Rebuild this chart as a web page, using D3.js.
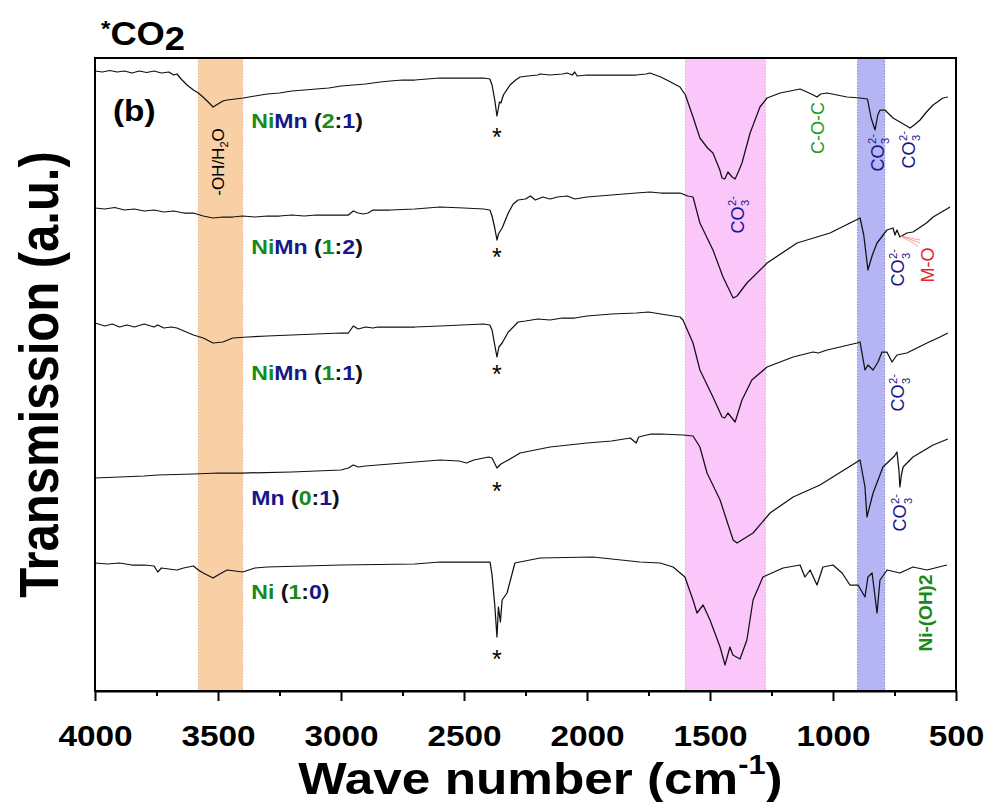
<!DOCTYPE html>
<html>
<head>
<meta charset="utf-8">
<script src="https://cdn.jsdelivr.net/npm/d3@7"></script>
<style>
  body { margin: 0; background: #fff; }
  svg { display: block; font-family: "Liberation Sans", Arial, sans-serif; }
</style>
</head>
<body>
<svg id="chart" width="986" height="802"></svg>
<script>
// FTIR transmission spectra (stacked, arbitrary units), wavenumber in cm^-1
const niMn21 = [
  [4000,124.0],[3970,123.8],[3940,124.1],[3910,123.8],[3880,124.0],[3850,123.6],[3820,124.0],[3790,123.7],
  [3760,124.0],[3730,123.6],[3700,123.8],[3680,123.2],[3667,123.4],[3650,122.4],[3626,121.2],[3600,120.2],
  [3580,119.6],[3561,118.8],[3540,117.8],[3520,116.8],[3500,117.4],[3480,118.0],[3463,118.2],[3430,118.4],
  [3398,118.6],[3350,119.0],[3300,119.4],[3250,119.6],[3200,120.0],[3150,120.2],[3100,120.4],[3050,120.6],
  [3000,121.0],[2950,121.2],[2900,121.4],[2841,121.8],[2800,122.0],[2750,122.2],[2700,122.2],[2650,122.4],
  [2598,122.6],[2500,122.6],[2420,122.6],[2395,122.4],[2386,121.2],[2375,118.2],[2366,115.0],[2360,116.6],
  [2356,117.8],[2350,117.6],[2340,119.2],[2313,121.2],[2290,122.2],[2272,122.8],[2240,123.0],[2200,123.2],
  [2191,123.4],[2150,123.2],[2100,123.4],[2080,123.6],[2060,123.2],[2050,123.8],[2040,123.0],[2000,123.2],
  [1960,123.2],[1900,123.2],[1850,123.2],[1800,123.2],[1760,123.4],[1744,123.6],[1700,122.8],[1660,121.8],
  [1622,120.8],[1600,119.2],[1569,114.8],[1541,110.6],[1510,108.6],[1488,107.6],[1460,104.2],[1451,102.6],
  [1440,102.4],[1427,103.8],[1410,102.8],[1398,102.4],[1385,103.8],[1370,105.6],[1337,111.6],[1297,116.8],
  [1268,118.6],[1215,119.6],[1134,120.4],[1106,119.8],[1080,119.2],[1065,118.8],[1050,119.4],[1024,119.6],
  [943,118.8],[890,118.6],[860,118.4],[845,114.6],[829,112.2],[818,115.2],[809,116.2],[789,116.2],
  [756,114.6],[728,113.8],[700,113.0],[687,112.6],[670,113.2],[646,114.2],[620,115.8],[593,117.2],
  [553,118.6],[533,118.8]
];

const niMn12 = [
  [4000,96.6],[3960,96.4],[3920,96.7],[3880,96.2],[3840,96.4],[3800,96.0],[3760,96.2],[3720,95.8],
  [3680,96.0],[3640,95.6],[3600,95.6],[3560,95.0],[3520,94.6],[3480,94.8],[3440,94.8],[3400,95.0],
  [3350,94.8],[3300,95.0],[3250,95.0],[3200,95.2],[3150,95.0],[3100,95.2],[3050,95.2],[3000,95.2],
  [2970,95.2],[2950,96.0],[2930,95.6],[2910,95.4],[2890,95.6],[2870,96.2],[2800,96.2],[2700,96.4],
  [2598,96.8],[2500,96.6],[2420,96.4],[2395,96.2],[2386,95.0],[2375,92.6],[2366,90.2],[2360,91.4],
  [2355,91.8],[2345,92.6],[2320,95.6],[2300,97.4],[2280,98.2],[2250,98.4],[2230,99.0],[2210,98.2],
  [2180,98.8],[2150,98.4],[2120,98.8],[2080,99.0],[2050,98.4],[2000,98.8],[1950,99.0],[1900,99.2],
  [1850,99.4],[1800,99.6],[1744,99.8],[1700,99.6],[1622,99.6],[1590,99.0],[1569,98.8],[1541,93.6],
  [1488,88.2],[1447,82.8],[1406,78.6],[1390,79.0],[1350,81.6],[1268,85.6],[1146,89.6],[1012,91.6],
  [890,94.6],[875,91.2],[858,84.2],[840,87.2],[821,89.6],[781,92.2],[756,92.6],[748,91.2],
  [740,92.2],[728,90.8],[700,91.6],[675,91.8],[620,93.6],[593,94.8],[524,96.8]
];

const niMn11 = [
  [4000,73.6],[3960,73.0],[3930,73.4],[3900,72.8],[3870,73.2],[3840,72.8],[3800,73.4],[3760,72.8],
  [3745,73.2],[3720,72.6],[3690,72.8],[3667,72.6],[3600,71.2],[3560,70.6],[3520,69.6],[3480,69.8],
  [3440,70.6],[3380,70.8],[3300,71.0],[3200,71.2],[3100,71.4],[3000,71.6],[2970,71.6],[2950,73.0],
  [2930,72.4],[2900,72.8],[2870,72.6],[2850,72.8],[2700,72.8],[2598,73.0],[2420,73.4],[2395,73.2],
  [2386,72.2],[2375,69.2],[2366,66.8],[2358,68.8],[2345,69.6],[2320,71.8],[2280,73.8],[2250,74.0],
  [2200,74.4],[2150,74.2],[2100,74.6],[2050,74.6],[2000,75.0],[1900,75.4],[1800,75.6],[1750,75.8],
  [1700,75.4],[1622,74.8],[1610,74.2],[1569,69.6],[1541,64.2],[1488,58.8],[1451,54.8],[1440,54.6],
  [1427,55.6],[1398,53.8],[1370,58.2],[1330,62.2],[1268,64.8],[1162,66.8],[1081,67.8],[1060,67.6],
  [1024,68.2],[902,69.6],[890,69.8],[870,64.2],[858,65.2],[837,64.2],[817,65.8],[801,67.8],
  [781,67.8],[760,65.8],[740,67.2],[700,67.6],[618,69.6],[565,70.8],[533,71.6]
];

const mn01 = [
  [4000,42.6],[3800,43.0],[3745,43.2],[3600,43.4],[3500,43.6],[3400,43.6],[3200,43.8],[3000,44.2],
  [2970,44.6],[2950,45.2],[2930,44.8],[2900,45.0],[2800,45.4],[2598,46.2],[2520,46.0],[2490,45.6],
  [2460,46.2],[2400,46.8],[2386,46.6],[2366,44.6],[2350,45.4],[2320,46.2],[2272,47.6],[2150,48.8],
  [2000,49.6],[1900,50.0],[1824,50.6],[1800,49.6],[1790,50.8],[1740,51.4],[1700,51.4],[1610,51.2],
  [1569,51.0],[1541,48.8],[1512,43.6],[1459,38.2],[1406,30.2],[1390,29.6],[1325,31.6],[1256,35.6],
  [1162,38.8],[1053,41.2],[890,46.2],[870,40.8],[862,34.8],[837,39.6],[797,44.8],[750,47.0],
  [740,47.8],[732,44.2],[728,40.8],[722,43.2],[715,44.8],[675,46.8],[593,49.2],[533,50.4]
];

const ni10 = [
  [4000,25.6],[3950,25.4],[3900,25.6],[3850,25.2],[3800,25.2],[3760,25.0],[3745,23.8],[3730,24.6],
  [3700,24.4],[3667,24.2],[3640,24.6],[3600,25.0],[3580,24.2],[3560,23.6],[3520,22.6],[3500,23.2],
  [3463,24.2],[3400,23.8],[3350,24.6],[3300,24.8],[3000,25.2],[2700,25.4],[2598,25.8],[2420,25.8],
  [2394,25.8],[2386,23.2],[2375,17.2],[2366,10.8],[2360,16.8],[2352,13.8],[2345,18.2],[2325,19.6],
  [2293,25.6],[2191,26.6],[1976,26.8],[1785,25.8],[1703,25.6],[1650,24.8],[1602,22.8],[1569,18.2],
  [1553,15.6],[1528,17.2],[1500,14.2],[1459,8.8],[1439,5.2],[1419,8.8],[1407,7.2],[1378,6.4],
  [1350,10.2],[1325,18.2],[1285,22.8],[1203,24.6],[1134,25.2],[1114,22.8],[1093,24.2],[1065,21.2],
  [1041,24.8],[1000,25.2],[963,23.6],[931,21.2],[898,21.2],[870,18.8],[858,22.8],[841,23.6],
  [821,15.6],[809,22.2],[780,24.2],[728,23.6],[675,24.8],[618,24.2],[537,25.2]
];

const seriesNames = ["NiMn (2:1)", "NiMn (1:2)", "NiMn (1:1)", "Mn (0:1)", "Ni (1:0)"];
const seriesValues = [niMn21, niMn12, niMn11, mn01, ni10];

// Assignment bands (cm^-1)
const bandRanges = [[3580, 3400], [1600, 1275], [900, 790]];

const xTicks = [4000, 3500, 3000, 2500, 2000, 1500, 1000, 500];
const xMinorTicks = [3750, 3250, 2750, 2250, 1750, 1250, 750];

// ---- layout & styles ----
const W = 986, H = 802;
const margin = { left: 95, right: 30, top: 58, bottom: 111 };
const GREEN = "#178a17", NAVY = "#17178a", INK = "#111", RED = "#e3262b";
const bandFill = ["#f9cfa6", "#fbc6fa", "#b5b5f4"];
const bandEdge = ["#e8b487", "#e9a1ea", "#8585d8"];

const svg = d3.select("#chart");
const x = d3.scaleLinear().domain([4000, 500]).range([margin.left, W - margin.right]);
const y = d3.scaleLinear().domain([0, 126.6]).range([H - margin.bottom, margin.top]);
const plotTop = margin.top, plotBottom = H - margin.bottom;

// bands
const bandG = svg.append("g");
bandRanges.forEach((r, i) => {
  const x0 = x(r[0]), x1 = x(r[1]);
  bandG.append("rect").attr("x", x0).attr("y", plotTop).attr("width", x1 - x0)
    .attr("height", plotBottom - plotTop).attr("fill", bandFill[i]);
  [x0, x1].forEach(xx => bandG.append("line").attr("x1", xx).attr("x2", xx)
    .attr("y1", plotTop).attr("y2", plotBottom)
    .attr("stroke", bandEdge[i]).attr("stroke-width", 1).attr("stroke-dasharray", "1.5,1.5"));
});

// spectra
const line = d3.line().x(d => x(d[0])).y(d => y(d[1]));
svg.append("g").selectAll("path").data(seriesValues).join("path")
  .attr("d", line).attr("fill", "none").attr("stroke", "#111")
  .attr("stroke-width", 1.25).attr("stroke-linejoin", "round");

// frame
svg.append("rect").attr("x", margin.left).attr("y", plotTop)
  .attr("width", W - margin.right - margin.left).attr("height", plotBottom - plotTop)
  .attr("fill", "none").attr("stroke", "#000").attr("stroke-width", 2);

// x axis
const axG = svg.append("g").attr("transform", `translate(0,${plotBottom})`)
  .call(d3.axisBottom(x).tickValues(xTicks).tickSize(10).tickSizeOuter(0).tickFormat(d3.format("d")));
axG.select(".domain").attr("stroke-width", 2);
axG.selectAll(".tick line").attr("stroke-width", 2);
axG.selectAll(".tick text").attr("dy", null).attr("y", 55)
  .attr("font-size", 29).attr("font-weight", "bold").attr("fill", "#000")
  .attr("font-family", "Liberation Sans, Arial, sans-serif")
  .attr("transform", "scale(1.15,1)");
const minG = svg.append("g").attr("transform", `translate(0,${plotBottom})`)
  .call(d3.axisBottom(x).tickValues(xMinorTicks).tickSize(5).tickFormat(""));
minG.select(".domain").remove();
minG.selectAll(".tick line").attr("stroke-width", 2);

// helpers
function hText(px, py, parts, size, opts = {}) {
  const g = svg.append("g").attr("transform", `translate(${px},${py}) scale(${opts.sx || 1.1},1)`);
  const t = g.append("text").attr("font-size", size)
    .attr("font-weight", opts.weight || "bold").attr("text-anchor", opts.anchor || "start");
  parts.forEach(p => {
    const s = t.append("tspan").attr("fill", p.c || "#000").text(p.t);
    if (p.dy) s.attr("dy", p.dy);
    if (p.fs) s.attr("font-size", p.fs);
  });
  return g;
}
function vText(cx, cy, parts, size, color, weight) {
  // vertical text reading bottom-to-top, centred on (cx, cy)
  const g = svg.append("g").attr("transform", `translate(${cx},${cy}) rotate(-90)`);
  const t = g.append("text").attr("font-size", size).attr("font-weight", weight || "normal")
    .attr("fill", color).attr("text-anchor", "middle").attr("y", size * 0.36);
  parts.forEach(p => {
    const s = t.append("tspan").text(p.t);
    if (p.dy) s.attr("dy", p.dy);
    if (p.fs) s.attr("font-size", p.fs);
  });
  return g;
}
function carbonate(w, v, size = 18) {
  const g = svg.append("g").attr("transform", `translate(${x(w)},${y(v)}) rotate(-90)`);
  const inner = g.append("g");
  const main = inner.append("text").attr("font-size", size).attr("fill", NAVY).text("CO");
  const wMain = main.node().getComputedTextLength();
  const small = size * 0.62;
  const sub = inner.append("text").attr("x", wMain + 0.5).attr("y", size * 0.3)
    .attr("font-size", small).attr("fill", NAVY).text("3");
  const sup = inner.append("text").attr("x", wMain + 0.5).attr("y", -size * 0.42)
    .attr("font-size", small).attr("fill", NAVY).text("2-");
  const wSmall = Math.max(sub.node().getComputedTextLength(), sup.node().getComputedTextLength());
  inner.attr("transform", `translate(${-(wMain + wSmall) / 2},${size * 0.36})`);
}

// series labels
const labelParts = [
  [{t:"Ni",c:GREEN},{t:"Mn",c:NAVY},{t:" (",c:INK},{t:"2",c:GREEN},{t:":",c:INK},{t:"1",c:NAVY},{t:")",c:INK}],
  [{t:"Ni",c:GREEN},{t:"Mn",c:NAVY},{t:" (",c:INK},{t:"1",c:GREEN},{t:":",c:INK},{t:"2",c:NAVY},{t:")",c:INK}],
  [{t:"Ni",c:GREEN},{t:"Mn",c:NAVY},{t:" (",c:INK},{t:"1",c:GREEN},{t:":",c:INK},{t:"1",c:NAVY},{t:")",c:INK}],
  [{t:"Mn",c:NAVY},{t:" (",c:INK},{t:"0",c:GREEN},{t:":",c:INK},{t:"1",c:NAVY},{t:")",c:INK}],
  [{t:"Ni",c:GREEN},{t:" (",c:INK},{t:"1",c:GREEN},{t:":",c:INK},{t:"0",c:NAVY},{t:")",c:INK}]
];
const labelLevels = [112.6, 87.4, 62.2, 37.2, 18.4];
labelParts.forEach((parts, i) => hText(x(3365), y(labelLevels[i]), parts, 21));

// CO2 markers under the 2360 cm^-1 doublet
const starLevels = [109.0, 85.0, 61.6, 38.2, 4.6];
starLevels.forEach(v => svg.append("text").attr("x", x(2366)).attr("y", y(v))
  .attr("text-anchor", "middle").attr("font-size", 25).attr("fill", "#000").text("*"));

// band / peak assignments
vText(x(3500), y(105.8), [{t:"-OH/H"},{t:"2",fs:11,dy:4},{t:"O",dy:-4}], 17, "#000");
carbonate(1390, 95.2);
vText(x(1061), y(112.6), [{t:"C-O-C"}], 18, "#1f9a1f");
carbonate(821, 107.6);
carbonate(695, 108.2);
carbonate(736, 84.6);
vText(x(614), y(85.2), [{t:"M-O"}], 18, RED);
carbonate(736, 59.6);
carbonate(728, 35.6);
vText(x(626), y(15.6), [{t:"Ni-(OH)2"}], 19, GREEN, "bold");

// M-O pointer
[[646, 90.2], [646, 89.6], [654, 89.0]].forEach(e => svg.append("line")
  .attr("x1", x(725)).attr("y1", y(91.0)).attr("x2", x(e[0])).attr("y2", y(e[1]))
  .attr("stroke", "#f08a8a").attr("stroke-width", 0.8));

// panel tag
hText(margin.left + 18, plotTop + 63, [{t:"(b)"}], 29, { sx: 1.15 });

// header: CO2 marker legend
const hdr = svg.append("g").attr("transform", "translate(101,45) scale(1.1,1)");
const ht = hdr.append("text").attr("font-weight", "bold").attr("fill", "#000");
ht.append("tspan").attr("font-size", 22).attr("dy", -9).text("*");
ht.append("tspan").attr("font-size", 33).attr("dy", 9).text("CO");
ht.append("tspan").attr("font-size", 33).attr("dy", 5).text("2");

// axis titles
hText((margin.left + W - margin.right) / 2 + 15, 794,
  [{t:"Wave number (cm"},{t:"-1",fs:27,dy:-20},{t:")",dy:20}], 45, { anchor: "middle", sx: 1.14 });
svg.append("g").attr("transform", `translate(58,${(plotTop + plotBottom) / 2}) rotate(-90) scale(1,1.12)`)
  .append("text").attr("text-anchor", "middle").attr("font-size", 49).attr("font-weight", "bold")
  .attr("fill", "#000").text("Transmission (a.u.)");
</script>
</body>
</html>
